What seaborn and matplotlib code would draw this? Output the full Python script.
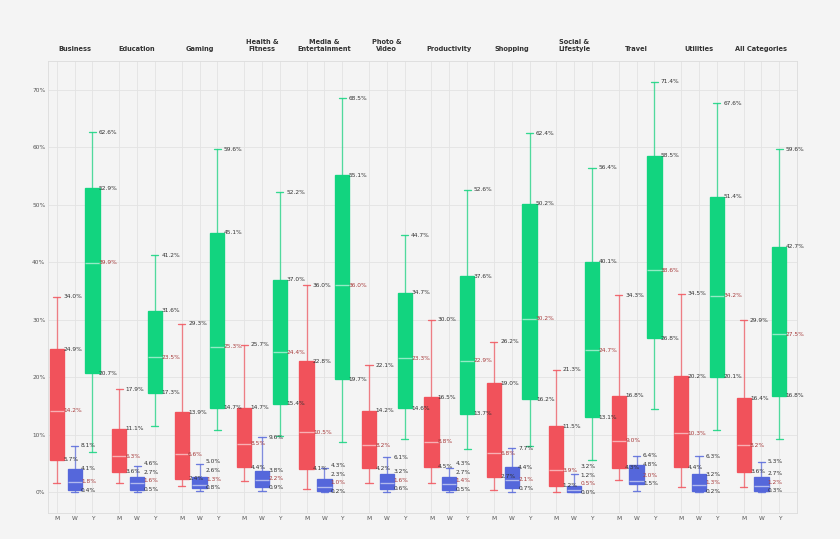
import numpy as np
import pandas as pd
import seaborn as sns
import matplotlib.pyplot as plt

# -----------------------------
# Data (percent)
# -----------------------------
categories = ["Business", "Education", "Gaming", "Health &\nFitness",
              "Media &\nEntertainment", "Photo &\nVideo", "Productivity",
              "Shopping", "Social &\nLifestyle", "Travel", "Utilities",
              "All Categories"]
series = ["M", "W", "Y"]

# M
m_lo = [1.6, 1.6, 1.2, 1.9, 0.6, 1.7, 1.7, 0.5, 0.0, 2.2, 0.9, 0.9]
m_q1 = [5.7, 3.6, 2.4, 4.4, 4.1, 4.2, 4.5, 2.7, 1.2, 4.3, 4.4, 3.6]
m_med = [14.2, 6.3, 6.6, 8.5, 10.5, 8.2, 8.8, 6.8, 3.9, 9.0, 10.3, 8.2]
m_q3 = [24.9, 11.1, 13.9, 14.7, 22.8, 14.2, 16.5, 19.0, 11.5, 16.8, 20.2, 16.4]
m_hi = [34.0, 17.9, 29.3, 25.7, 36.0, 22.1, 30.0, 26.2, 21.3, 34.3, 34.5, 29.9]

# W
w_lo = [0.0, 0.0, 0.2, 0.2, 0.0, 0.0, 0.0, 0.0, 0.0, 0.3, 0.0, 0.0]
w_q1 = [0.4, 0.5, 0.8, 0.9, 0.2, 0.6, 0.5, 0.7, 0.0, 1.5, 0.2, 0.3]
w_med = [1.8, 1.6, 1.3, 2.2, 1.0, 1.6, 1.4, 2.1, 0.5, 2.0, 1.3, 1.2]
w_q3 = [4.1, 2.7, 2.6, 3.8, 2.3, 3.2, 2.7, 4.4, 1.2, 4.8, 3.2, 2.7]
w_hi = [8.1, 4.6, 5.0, 9.6, 4.3, 6.1, 4.3, 7.7, 3.2, 6.4, 6.3, 5.3]

# Y
y_lo = [7.0, 11.6, 10.9, 9.8, 8.8, 9.2, 7.6, 8.0, 5.6, 14.5, 10.9, 9.3]
y_q1 = [20.7, 17.3, 14.7, 15.4, 19.7, 14.6, 13.7, 16.2, 13.1, 26.8, 20.1, 16.8]
y_med = [39.9, 23.5, 25.3, 24.4, 36.0, 23.3, 22.9, 30.2, 24.7, 38.6, 34.2, 27.5]
y_q3 = [52.9, 31.6, 45.1, 37.0, 55.1, 34.7, 37.6, 50.2, 40.1, 58.5, 51.4, 42.7]
y_hi = [62.6, 41.2, 59.6, 52.2, 68.5, 44.7, 52.6, 62.4, 56.4, 71.4, 67.6, 59.6]

stats = {
    "M": [m_lo, m_q1, m_med, m_q3, m_hi],
    "W": [w_lo, w_q1, w_med, w_q3, w_hi],
    "Y": [y_lo, y_q1, y_med, y_q3, y_hi],
}
colors = {"M": "#f1525b", "W": "#5567db", "Y": "#12d47f"}

group_step = 3.5

# five summary numbers per box -> quartiles come out exactly
rows = []
for g, cat in enumerate(categories):
    for j, s in enumerate(series):
        for arr in stats[s]:
            rows.append({"pos": g * group_step + j, "series": s, "value": arr[g]})
df = pd.DataFrame(rows)

# -----------------------------
# Plot
# -----------------------------
sns.set_theme(style="whitegrid", rc={
    "figure.facecolor": "#f4f4f4",
    "axes.facecolor": "#f4f4f4",
    "axes.edgecolor": "#dcdcdc",
    "grid.color": "#e3e3e3",
    "grid.linewidth": 1.0,
})
plt.rcParams["font.family"] = ["DejaVu Sans"]

fig, ax = plt.subplots(figsize=(14, 8.984), dpi=60)
fig.subplots_adjust(left=0.057, right=0.949, top=0.887, bottom=0.048)

for s in series:
    sns.boxplot(
        data=df[df["series"] == s], x="pos", y="value", orient="x",
        native_scale=True, color=colors[s], saturation=1, linecolor=colors[s],
        width=0.8 / group_step, whis=(0, 100), linewidth=1.6, ax=ax,
        whiskerprops={"alpha": 0.7}, capprops={"alpha": 0.85},
        medianprops={"color": "white", "alpha": 0.55, "linewidth": 1.6},
    )

# value labels, nudged upward so they do not collide
gap = 1.5
for g in range(len(categories)):
    for j, s in enumerate(series):
        lo, q1, med, q3, hi = [arr[g] for arr in stats[s]]
        x = g * group_step + j
        placed = []
        for v, c in [(q1, "#333333"), (med, "#a63a3a"), (q3, "#333333"), (hi, "#333333")]:
            yy = v if not placed else max(v, placed[-1] + gap)
            placed.append(yy)
            ax.text(x + 0.36, yy, f"{v:.1f}%", fontsize=7, color=c,
                    ha="left", va="center", zorder=5)

positions = [g * group_step + j for g in range(len(categories)) for j in range(3)]
ax.set_xticks(positions)
ax.set_xticklabels(series * len(categories))
ax.set_xlim(-0.5, (len(categories) - 1) * group_step + 3)
ax.set_ylim(-3.6, 75)
ax.set_yticks(range(0, 80, 10))
ax.set_yticklabels([f"{t}%" for t in range(0, 80, 10)])
ax.tick_params(axis="both", labelsize=7, colors="#555555", length=0, pad=3)
ax.set_xlabel("")
ax.set_ylabel("")
ax.set_axisbelow(True)
for sp in ax.spines.values():
    sp.set_color("#dcdcdc")
    sp.set_linewidth(1)

for g, cat in enumerate(categories):
    ax.text(g * group_step + 1, 1.02, cat, transform=ax.get_xaxis_transform(),
            ha="center", va="bottom", fontsize=8, fontweight="bold",
            color="#333333")

fig.savefig("out.png", dpi=60, facecolor=fig.get_facecolor())
